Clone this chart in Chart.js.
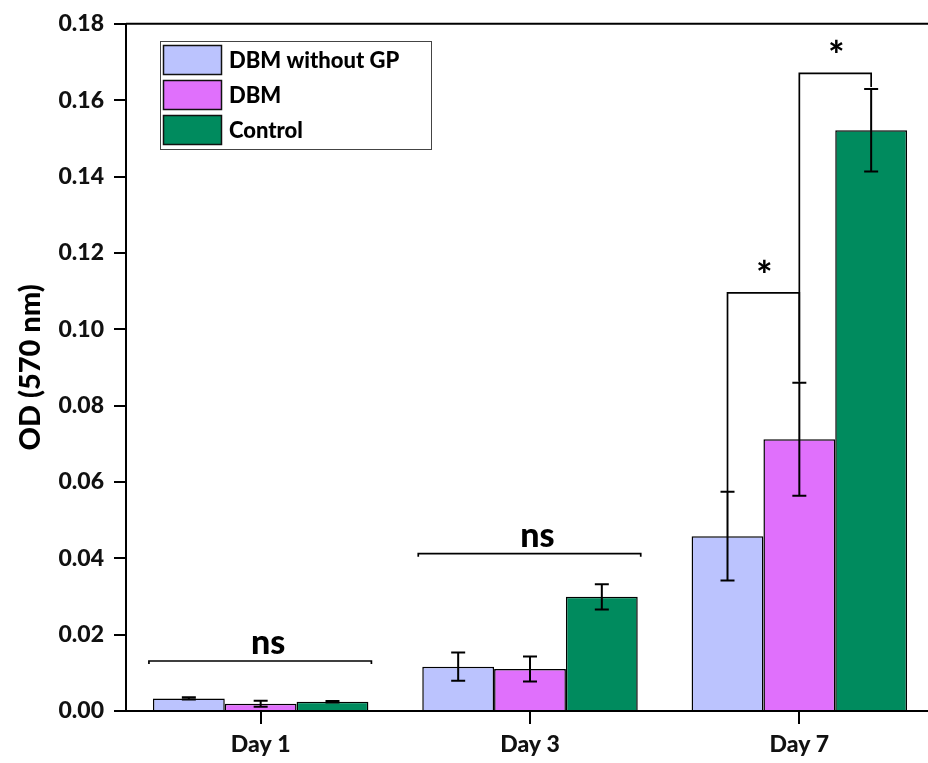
<!DOCTYPE html>
<html>
<head>
<meta charset="utf-8">
<script src="https://cdn.jsdelivr.net/npm/chart.js@4.4.0/dist/chart.umd.min.js"></script>
<style>
html, body { margin: 0; padding: 0; overflow: hidden; background: #fff; }
#wrap { width: 928px; height: 763px; overflow: hidden; position: relative; }
canvas { display: block; }
</style>
</head>
<body>
<div id="wrap"><canvas id="myChart" width="936" height="763"></canvas></div>
<script>
let days = ['Day 1', 'Day 3', 'Day 7'];
let groups = ['DBM without GP', 'DBM', 'Control'];
let colors = ['#bbc3fe', '#e070fc', '#008b5e'];

let withoutGp = [0.0033, 0.0116, 0.0458];
let dbm = [0.0019, 0.0110, 0.0712];
let control = [0.0024, 0.0299, 0.1521];

let withoutGpErr = [0.0003, 0.0037, 0.0116];
let dbmErr = [0.0008, 0.0033, 0.0148];
let controlErr = [0.0002, 0.0033, 0.0108];

let yTicks = [0, 0.02, 0.04, 0.06, 0.08, 0.10, 0.12, 0.14, 0.16, 0.18];

// significance brackets: day index, first / last series, height, label
let bracketDay = [0, 1, 2, 2];
let bracketFrom = [0, 0, 0, 1];
let bracketTo = [2, 2, 1, 2];
let bracketLevel = [0.0131, 0.0412, 0.1095, 0.1670];
let bracketText = ['ns', 'ns', '*', '*'];

let errs = [withoutGpErr, dbmErr, controlErr];
let font = 'Lato';

const extras = {
    id: 'extras',
    afterDatasetsDraw(chart) {
        const c = chart.ctx;
        const y = chart.scales.y;
        c.save();
        c.strokeStyle = '#000';

        // error bars
        c.lineWidth = 2;
        chart.data.datasets.forEach((ds, i) => {
            chart.getDatasetMeta(i).data.forEach((bar, j) => {
                let v = ds.data[j], e = errs[i][j];
                let top = y.getPixelForValue(v + e), bot = y.getPixelForValue(v - e);
                c.beginPath();
                c.moveTo(bar.x, top); c.lineTo(bar.x, bot);
                c.moveTo(bar.x - 7, top); c.lineTo(bar.x + 7, top);
                c.moveTo(bar.x - 7, bot); c.lineTo(bar.x + 7, bot);
                c.stroke();
            });
        });

        // brackets
        c.lineWidth = 1.7;
        c.fillStyle = '#000';
        c.textAlign = 'center';
        c.textBaseline = 'alphabetic';
        bracketText.forEach((txt, k) => {
            let d = bracketDay[k];
            let a = chart.getDatasetMeta(bracketFrom[k]).data[d];
            let b = chart.getDatasetMeta(bracketTo[k]).data[d];
            let ly = y.getPixelForValue(bracketLevel[k]);
            c.beginPath();
            if (txt === 'ns') {
                let x1 = a.x - a.width / 2 - 4, x2 = b.x + b.width / 2 + 3;
                c.moveTo(x1, ly + 3); c.lineTo(x1, ly); c.lineTo(x2, ly); c.lineTo(x2, ly + 3);
                c.stroke();
                c.font = '900 34px ' + font;
                c.fillText(txt, (x1 + x2) / 2 + 8, ly - 7);
            } else {
                let fa = chart.data.datasets[bracketFrom[k]].data[d] + errs[bracketFrom[k]][d];
                let fb = chart.data.datasets[bracketTo[k]].data[d] + errs[bracketTo[k]][d];
                let ya = y.getPixelForValue(fa), yb = y.getPixelForValue(fb) - 2;
                c.moveTo(a.x, ya); c.lineTo(a.x, ly); c.lineTo(b.x, ly); c.lineTo(b.x, yb);
                c.stroke();
                c.font = '900 38px ' + font;
                c.fillText(txt, (a.x + b.x) / 2 + 1, ly - 4);
            }
        });
        c.restore();
    },
    afterDraw(chart) {
        const c = chart.ctx;
        const area = chart.chartArea;
        c.save();
        // keep the strip right of the last bar blank
        c.fillStyle = '#fff';
        c.fillRect(912, area.top + 2, chart.width - 912, area.bottom - area.top - 4);
        // top frame
        c.strokeStyle = '#000';
        c.lineWidth = 2;
        c.beginPath();
        c.moveTo(area.left, area.top);
        c.lineTo(chart.width, area.top);
        c.stroke();

        // legend
        c.lineWidth = 1;
        c.strokeStyle = '#444';
        c.strokeRect(160.5, 41.5, 271, 108);
        c.font = '900 22px ' + font;
        c.textAlign = 'left';
        c.textBaseline = 'middle';
        groups.forEach((g, i) => {
            let top = 45 + i * 35;
            c.fillStyle = colors[i];
            c.fillRect(163, top, 59, 30);
            c.lineWidth = 1.5;
            c.strokeStyle = '#111';
            c.strokeRect(163.5, top + 0.5, 58, 29);
            c.fillStyle = '#000';
            c.fillText(g, 229, top + 16);
        });
        c.restore();
    }
};

let ctx = document.getElementById('myChart');
new Chart(ctx, {
    type: 'bar',
    data: {
        labels: days,
        datasets: [withoutGp, dbm, control].map((vals, i) => ({
            label: groups[i],
            data: vals,
            backgroundColor: colors[i],
            borderColor: '#000',
            borderWidth: 1.5,
            categoryPercentage: 0.8,
            barPercentage: 1.0
        }))
    },
    options: {
        responsive: false,
        animation: false,
        devicePixelRatio: 1,
        layout: { padding: { top: 22, right: 2, left: 0, bottom: 0 } },
        plugins: { legend: { display: false }, tooltip: { enabled: false } },
        scales: {
            x: {
                grid: { display: true, drawOnChartArea: false, drawTicks: true, tickLength: 13, offset: false, color: '#000', lineWidth: 2 },
                border: { display: true, color: '#000', width: 2 },
                ticks: { color: '#111', font: { family: font, weight: '900', size: 23 }, padding: 7 },
                afterFit: s => { s.height = 52; }
            },
            y: {
                min: 0,
                max: 0.18,
                afterBuildTicks: s => { s.ticks = yTicks.map(v => ({ value: v })); },
                grid: { display: true, drawOnChartArea: false, drawTicks: true, tickLength: 12, color: '#000', lineWidth: 2 },
                border: { display: true, color: '#000', width: 2 },
                ticks: {
                    color: '#111',
                    font: { family: font, weight: '900', size: 23 },
                    padding: 10,
                    callback: v => Number(v).toFixed(2)
                },
                title: {
                    display: true,
                    text: 'OD (570 nm)',
                    color: '#000',
                    font: { family: font, weight: '900', size: 29 },
                    padding: { top: 13, bottom: 0 }
                },
                afterFit: s => { s.width = 126; }
            }
        }
    },
    plugins: [extras]
});
</script>
</body>
</html>
